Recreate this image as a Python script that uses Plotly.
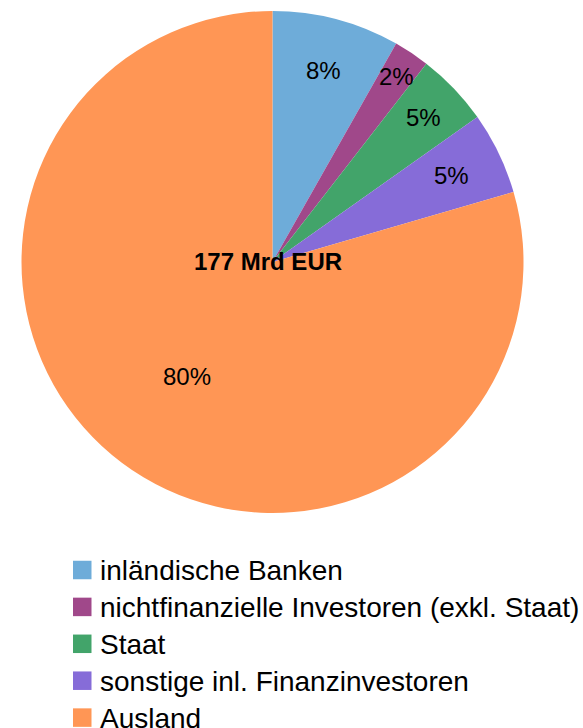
import math
import plotly.graph_objects as go

# ---- data ----
categories = ["inländische Banken", "nichtfinanzielle Investoren (exkl. Staat)", "Staat",
              "sonstige inl. Finanzinvestoren", "Ausland"]
shares = [8.2, 2.3, 4.7, 5.3, 79.5]  # percent
total_label = "177 Mrd EUR"
colors = ["#6eacd9", "#a0488a", "#42a46a", "#866cd8", "#ff9655"]

# ---- layout constants ----
W, H = 583, 728
CX, CY, R = 272.5, 262.0, 251.0
FONT = "Liberation Sans, Arial, sans-serif"
label_radius = [0.79, 0.89, 0.83, 0.79, 0.57]

def px(x):
    return x / W

def py(y):
    return 1 - y / H

fig = go.Figure()
fig.add_trace(go.Pie(
    labels=categories, values=shares, sort=False, direction="clockwise", rotation=0,
    marker=dict(colors=colors, line=dict(width=0)),
    textinfo="none", hoverinfo="label+percent", showlegend=False,
    domain=dict(x=[px(CX - R), px(CX + R)], y=[py(CY + R), py(CY - R)]),
))

annotations = []
# percentage labels along slice bisectors
tot = sum(shares)
cum = 0.0
for v, rf in zip(shares, label_radius):
    frac = v / tot
    mid = (cum + frac / 2) * 2 * math.pi
    cum += frac
    lx = CX + rf * R * math.sin(mid)
    ly = CY - rf * R * math.cos(mid)
    annotations.append(dict(x=px(lx), y=py(ly), xref="paper", yref="paper",
                            text=f"{round(v / tot * 100)}%", showarrow=False,
                            font=dict(family=FONT, size=24, color="#000000"),
                            xanchor="center", yanchor="middle"))
# center total
annotations.append(dict(x=px(268), y=py(261), xref="paper", yref="paper",
                        text=f"<b>{total_label}</b>", showarrow=False,
                        font=dict(family=FONT, size=24, color="#000000"),
                        xanchor="center", yanchor="middle"))

# manual legend
shapes = []
LEG_X0, LEG_Y0, LEG_DY, SQ = 73, 570, 36.9, 18.5
for i, (cat, col) in enumerate(zip(categories, colors)):
    yc = LEG_Y0 + i * LEG_DY
    shapes.append(dict(type="rect", xref="paper", yref="paper",
                       x0=px(LEG_X0), x1=px(LEG_X0 + SQ), y0=py(yc + SQ / 2), y1=py(yc - SQ / 2),
                       fillcolor=col, line=dict(width=0)))
    annotations.append(dict(x=px(98), y=py(yc + 0.5), xref="paper", yref="paper",
                            text=cat, showarrow=False,
                            font=dict(family=FONT, size=28, color="#000000"),
                            xanchor="left", yanchor="middle"))

fig.update_layout(width=W, height=H, margin=dict(l=0, r=0, t=0, b=0),
                  paper_bgcolor="white", plot_bgcolor="white",
                  annotations=annotations, shapes=shapes, showlegend=False)

fig.write_html("out.html", config={"displayModeBar": False},
               post_script="document.body.style.margin='0';document.body.style.overflow='hidden';")
